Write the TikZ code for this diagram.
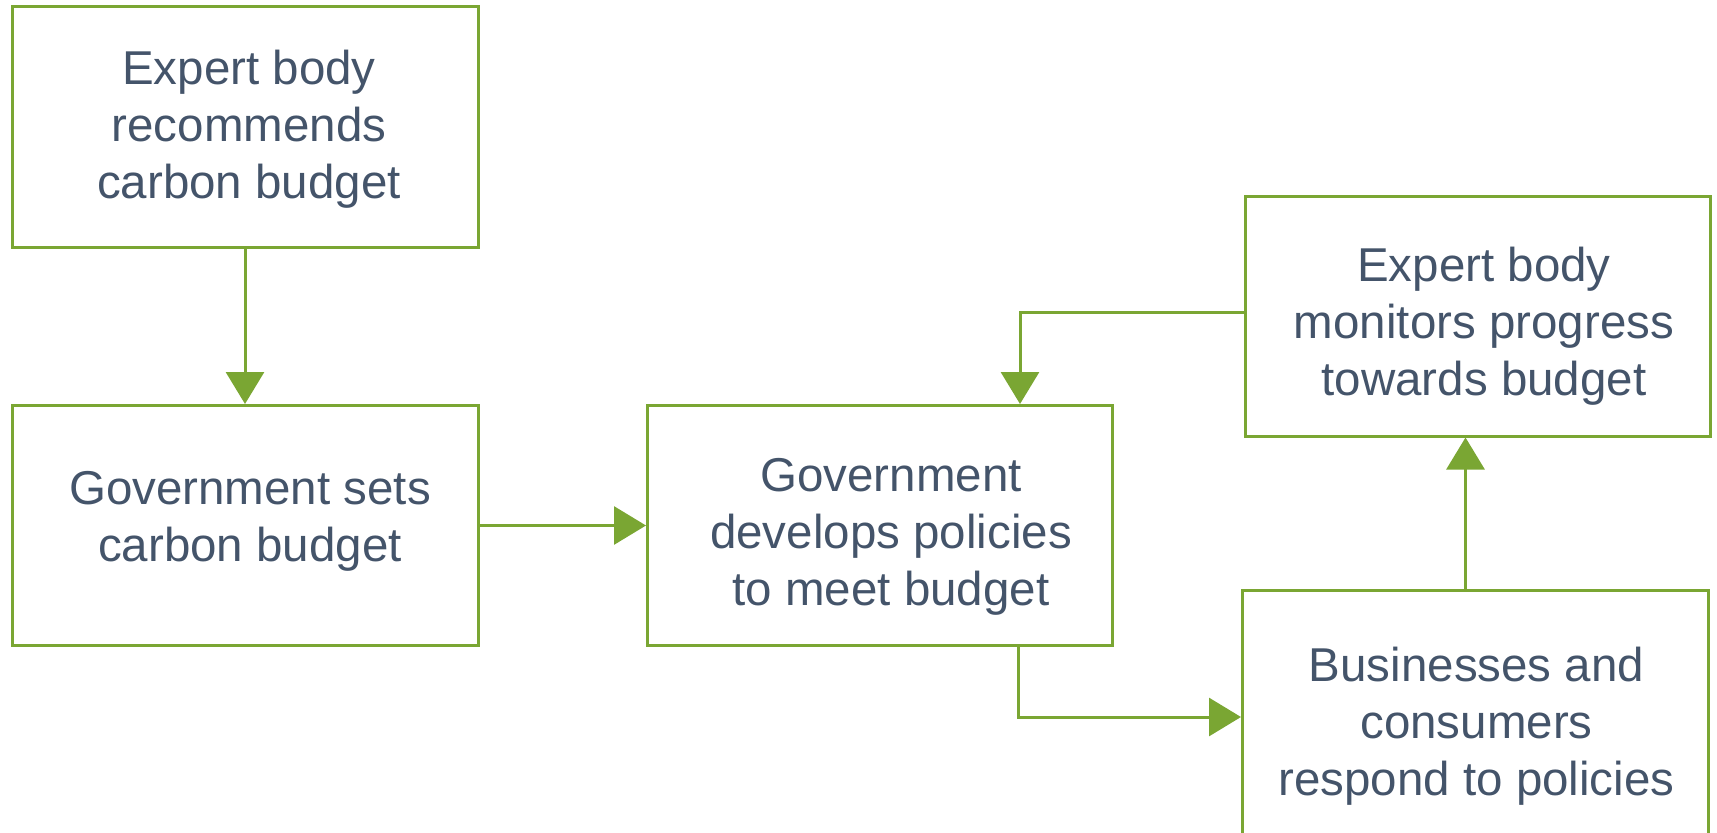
\documentclass[tikz,border=0pt]{standalone}
\usepackage{fontspec}
\setmainfont{Liberation Sans}
\usetikzlibrary{arrows.meta}
\definecolor{boxgreen}{HTML}{7AA633}
\definecolor{txtslate}{HTML}{44546A}
\begin{document}
\begin{tikzpicture}[x=1pt,y=-1pt,
  box/.style={draw=boxgreen, line width=3pt, rectangle, minimum width=466pt,
    minimum height=241pt, inner sep=0pt},
  txt/.style={align=center, text=txtslate, inner sep=0pt,
    font=\fontsize{47.5}{57}\selectfont},
  arr/.style={draw=boxgreen, line width=3pt,
    -{Triangle[width=38pt,length=32pt,fill=boxgreen]}}]
\useasboundingbox (0,0) rectangle (1717,833);
\clip (0,0) rectangle (1717,833);
\node[box] (b1) at (245,126.5) {};
\node[box, minimum height=240pt] (b2) at (245,525.5) {};
\node[box, minimum width=465pt, minimum height=240pt] (b3) at (880,525.5) {};
\node[box, minimum width=465pt, minimum height=240pt] (b4) at (1478,316) {};
\node[box, minimum height=253pt] (b5) at (1475.5,717) {};
\node[txt] (t1) at ([shift={(4,3)}]b1.center) {Expert body\\recommends\\carbon budget};
\node[txt] (t2) at ([shift={(5,-4)}]b2.center) {Government sets\\carbon budget};
\node[txt] (t3) at ([shift={(11,11)}]b3.center) {Government\\develops policies\\to meet budget};
\node[txt] (t4) at ([shift={(6,10)}]b4.center) {Expert body\\monitors progress\\towards budget};
\node[txt] (t5) at ([shift={(1,9)}]b5.center) {Businesses and\\consumers\\respond to policies};
\draw[arr] (b1.south) -- (b2.north);
\draw[arr] (b2.east) -- (b3.west);
\draw[arr] ([yshift=4pt]b4.west) -| ([xshift=140pt]b3.north);
\draw[arr] ([xshift=138pt]b3.south) |- (b5.west);
\draw[arr] ([xshift=-10pt]b5.north) -- ([xshift=-10pt]b5.north |- b4.south);
\end{tikzpicture}
\end{document}
